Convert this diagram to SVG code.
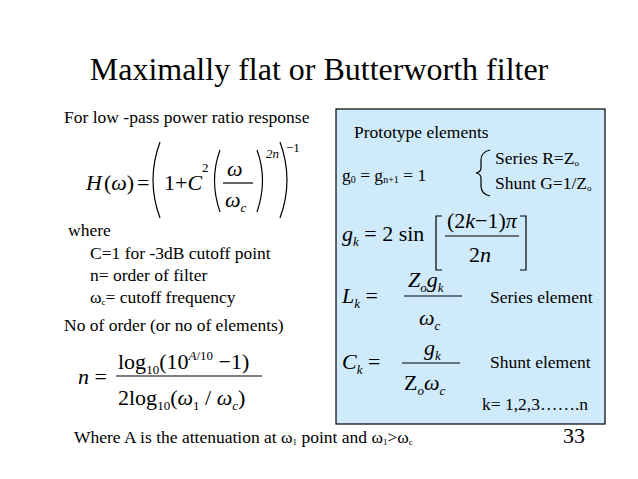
<svg xmlns="http://www.w3.org/2000/svg" width="638" height="479" viewBox="0 0 638 479" font-family="'Liberation Serif', 'DejaVu Serif', serif">
<style>
text, tspan{font-family:'Liberation Serif','DejaVu Serif',serif}
.t{font-size:17.5px}.m{font-size:22px}.i{font-style:italic}.s{font-size:13px}
.p{fill:none;stroke:#000;stroke-width:1.2}
</style>
<rect width="638" height="479" fill="#fff"/>
<text x="319" y="80" font-size="32" text-anchor="middle">Maximally flat or Butterworth filter</text>
<g id="left">
<text class="t" x="64" y="123">For low -pass power ratio response</text>
<text class="m" x="86" y="190"><tspan class="i">H</tspan><tspan dx="2">(</tspan><tspan class="i">ω</tspan>)<tspan dx="3">=</tspan></text>
<path class="p" d="M160 142 Q146 180 160 218"/>
<text class="m" x="164" y="190">1+<tspan class="i">C</tspan><tspan class="s" dy="-18">2</tspan></text>
<path class="p" d="M220 150 Q209 180 220 212"/>
<text class="m i" x="227" y="176">ω</text>
<line x1="223" y1="183" x2="253" y2="183" stroke="#000" stroke-width="1.2"/>
<text class="m i" x="225" y="207">ω<tspan class="s" dy="5">c</tspan></text>
<path class="p" d="M257 150 Q268 180 257 212"/>
<text class="s i" x="266" y="158">2<tspan>n</tspan></text>
<path class="p" d="M280 142 Q294 180 280 218"/>
<text class="s" x="286" y="152">−1</text>
<text class="t" x="68" y="236">where</text>
<text class="t" x="90" y="259">C=1 for -3dB cutoff point</text>
<text class="t" x="90" y="281">n= order of filter</text>
<text class="t" x="90" y="303">ω<tspan font-size="9" dy="2">c</tspan><tspan dy="-2">= cutoff frequency</tspan></text>
<text class="t" x="64" y="331">No of order (or no of elements)</text>
<text class="m" x="78" y="384"><tspan class="i">n</tspan> =</text>
<text class="m" x="118" y="369">log<tspan class="s" dy="5">10</tspan><tspan dy="-5">(10</tspan><tspan class="s i" dy="-9">A</tspan><tspan class="s" >/10</tspan><tspan dy="9"> −1)</tspan></text>
<line x1="116" y1="376" x2="262" y2="376" stroke="#000" stroke-width="1.2"/>
<text class="m" x="118" y="405">2log<tspan class="s" dy="5">10</tspan><tspan dy="-5">(</tspan><tspan class="i">ω</tspan><tspan class="s" dy="5">1</tspan><tspan dy="-5"> / </tspan><tspan class="i">ω</tspan><tspan class="s i" dy="5">c</tspan><tspan dy="-5">)</tspan></text>
<text class="t" x="74" y="443">Where A is the attenuation at ω<tspan font-size="9" dy="2">1</tspan><tspan dy="-2"> point and ω</tspan><tspan font-size="9" dy="2">1</tspan><tspan dy="-2">&gt;ω</tspan><tspan font-size="9" dy="2">c</tspan></text>
<text x="563" y="443" font-size="22">33</text>
</g>
<g id="box">
<rect x="336" y="109" width="269" height="315" fill="#cfeafa" stroke="#000" stroke-width="1.2"/>
<text class="t" x="354" y="138">Prototype elements</text>
<text class="t" x="342" y="181">g<tspan font-size="10" dy="2">0</tspan><tspan dy="-2"> =  g</tspan><tspan font-size="10" dy="2">n+1</tspan><tspan dy="-2"> = 1</tspan></text>
<path class="p" d="M490 150 Q481 152 481 160 L481 168 Q481 172 476 173 Q481 174 481 178 L481 186 Q481 194 490 196"/>
<text class="t" x="495" y="164">Series R=Z<tspan font-size="9" dy="2">o</tspan></text>
<text class="t" x="495" y="189">Shunt G=1/Z<tspan font-size="9" dy="2">o</tspan></text>
<text class="m" x="342" y="241"><tspan class="i">g</tspan><tspan class="s i" dy="5">k</tspan><tspan dy="-5"> = 2 sin</tspan></text>
<path class="p" d="M442 216 L436 216 L436 270 L442 270"/>
<text class="m" x="447" y="228">(2<tspan class="i">k</tspan>−1)<tspan class="i">π</tspan></text>
<line x1="445" y1="236" x2="519" y2="236" stroke="#000" stroke-width="1.2"/>
<text class="m" x="469" y="262">2<tspan class="i">n</tspan></text>
<path class="p" d="M520 216 L526 216 L526 270 L520 270"/>
<text class="m" x="342" y="303"><tspan class="i">L</tspan><tspan class="s i" dy="5">k</tspan><tspan dy="-5"> =</tspan></text>
<text class="m i" x="408" y="287">Z<tspan class="s" dy="5">o</tspan><tspan dy="-5">g</tspan><tspan class="s" dy="5">k</tspan></text>
<line x1="404" y1="296" x2="462" y2="296" stroke="#000" stroke-width="1.2"/>
<text class="m i" x="419" y="325">ω<tspan class="s" dy="5">c</tspan></text>
<text class="t" x="490" y="303">Series element</text>
<text class="m" x="342" y="369"><tspan class="i">C</tspan><tspan class="s i" dy="5">k</tspan><tspan dy="-5"> =</tspan></text>
<text class="m i" x="424" y="355">g<tspan class="s" dy="5">k</tspan></text>
<line x1="402" y1="363" x2="460" y2="363" stroke="#000" stroke-width="1.2"/>
<text class="m" x="404" y="390">Z<tspan class="s i" dy="5">o</tspan><tspan class="i" dy="-5">ω</tspan><tspan class="s i" dy="5">c</tspan></text>
<text class="t" x="490" y="368">Shunt element</text>
<text class="t" x="482" y="410">k= 1,2,3…….n</text>
</g>
</svg>
